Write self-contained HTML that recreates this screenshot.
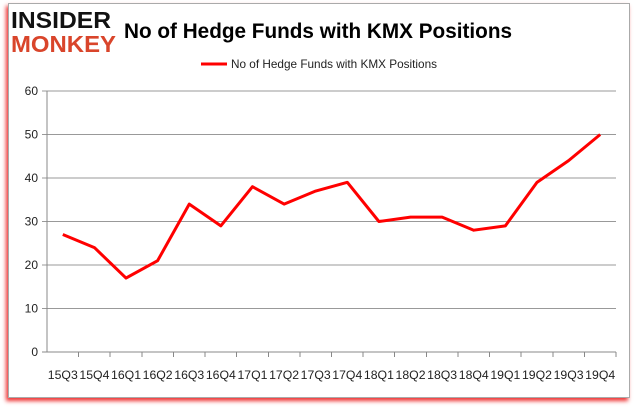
<!DOCTYPE html>
<html><head><meta charset="utf-8"><style>
body{margin:0;background:#fff;width:637px;height:408px;overflow:hidden;font-family:"Liberation Sans",sans-serif}
#frame{position:absolute;left:8px;top:3px;width:620px;height:393px;border:1px solid #aaa;background:#fff;box-shadow:-2px 3px 4px #e33}
</style></head><body>
<div id="frame"></div>
<svg id="c" width="637" height="408" style="position:absolute;left:0;top:0">
<text x="11" y="28" font-size="23" font-weight="bold" fill="#111" textLength="100" lengthAdjust="spacingAndGlyphs">INSIDER</text>
<text x="11" y="52" font-size="23" font-weight="bold" fill="#d9452b" textLength="105" lengthAdjust="spacingAndGlyphs">MONKEY</text>
<text x="124" y="38" font-size="21" font-weight="bold" fill="#000" textLength="388" lengthAdjust="spacingAndGlyphs">No of Hedge Funds with KMX Positions</text>
<line x1="201" y1="64" x2="227" y2="64" stroke="#f00" stroke-width="3"/>
<text x="231" y="68" font-size="12" fill="#222" textLength="206" lengthAdjust="spacingAndGlyphs">No of Hedge Funds with KMX Positions</text>
<g id="axes"></g>
</svg>
<script>
const categories=["15Q3","15Q4","16Q1","16Q2","16Q3","16Q4","17Q1","17Q2","17Q3","17Q4","18Q1","18Q2","18Q3","18Q4","19Q1","19Q2","19Q3","19Q4"];
const values=[27,24,17,21,34,29,38,34,37,39,30,31,31,28,29,39,44,50];
const yTicks=[0,10,20,30,40,50,60];
const NS="http://www.w3.org/2000/svg";
const g=document.getElementById('axes');
const L=47,R=616,T=91,B=352,YMAX=60;
const bw=(R-L)/categories.length;
const xs=i=>L+bw*(i+0.5);
const ys=v=>B-(v/YMAX)*(B-T);
function mk(t,a){const e=document.createElementNS(NS,t);for(const k in a)e.setAttribute(k,a[k]);g.appendChild(e);return e;}
yTicks.forEach(v=>{
 const l=mk('line',{x1:L-5,x2:R,y1:ys(v),y2:ys(v),stroke:v===0?'#888':'#999','stroke-width':1,'shape-rendering':'crispEdges'});
 
 
 const t=mk('text',{x:L-9,y:ys(v)+4,'font-size':12,'text-anchor':'end',fill:'#222'});t.textContent=v;
 
 
});
const ax=mk('line',{x1:L,x2:L,y1:T,y2:B,stroke:'#888','shape-rendering':'crispEdges'});


categories.forEach((c,i)=>{
 const tk=mk('line',{x1:L+bw*(i+1),x2:L+bw*(i+1),y1:B,y2:B+5,stroke:'#888','shape-rendering':'crispEdges'});
 
 
 const t=mk('text',{x:xs(i),y:379,'font-size':12,'text-anchor':'middle',fill:'#222',textLength:30,lengthAdjust:'spacingAndGlyphs'});t.textContent=c;
 
 
});
const p=mk('polyline',{points:values.map((v,i)=>xs(i)+','+ys(v)).join(' '),fill:'none',stroke:'#f00','stroke-width':3,'stroke-linejoin':'round'});


</script>
</body></html>
